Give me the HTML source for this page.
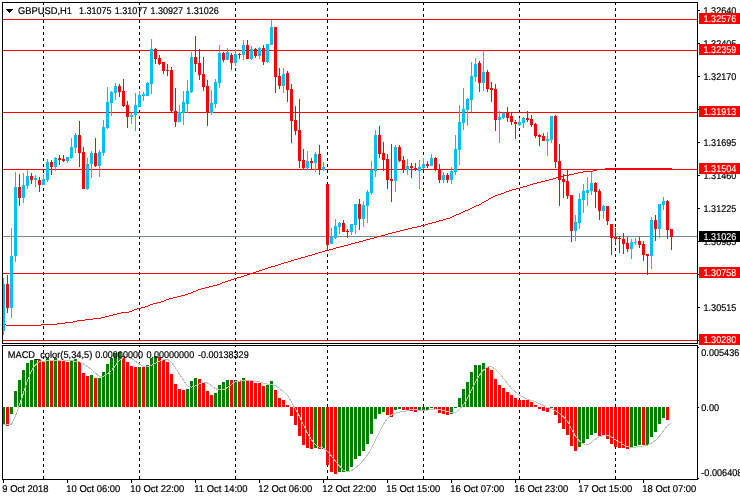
<!DOCTYPE html>
<html><head><meta charset="utf-8"><title>GBPUSD,H1</title>
<style>html,body{margin:0;padding:0;background:#fff}svg{display:block}text{text-rendering:geometricPrecision;font-family:"Liberation Sans",sans-serif;font-size:9.8px;fill:#000;stroke:#000;stroke-width:0.2px}.w{fill:#fff;stroke:#fff;stroke-width:0.1px}</style></head><body>
<svg width="740" height="500" viewBox="0 0 740 500">
<rect width="740" height="500" fill="#fff"/>
<g shape-rendering="crispEdges">
<path d="M43.5 2V479" stroke="#000" stroke-width="1" stroke-dasharray="3 3" fill="none"/><path d="M139.5 2V479" stroke="#000" stroke-width="1" stroke-dasharray="3 3" fill="none"/><path d="M235.5 2V479" stroke="#000" stroke-width="1" stroke-dasharray="3 3" fill="none"/><path d="M327.5 2V479" stroke="#000" stroke-width="1" stroke-dasharray="3 3" fill="none"/><path d="M423.5 2V479" stroke="#000" stroke-width="1" stroke-dasharray="3 3" fill="none"/><path d="M519.5 2V479" stroke="#000" stroke-width="1" stroke-dasharray="3 3" fill="none"/><path d="M615.5 2V479" stroke="#000" stroke-width="1" stroke-dasharray="3 3" fill="none"/><rect x="3" y="19" width="694" height="1" fill="#FF0000"/><rect x="3" y="50" width="694" height="1" fill="#FF0000"/><rect x="3" y="112" width="694" height="1" fill="#FF0000"/><rect x="3" y="169" width="694" height="1" fill="#FF0000"/><rect x="3" y="273" width="694" height="1" fill="#FF0000"/><rect x="3" y="340" width="694" height="1" fill="#FF0000"/><rect x="3" y="236" width="694" height="1" fill="#778899"/>
<rect x="2" y="407" width="3" height="17" fill="#008000"/><rect x="6" y="407" width="3" height="19" fill="#FF0000"/><rect x="10" y="407" width="3" height="7" fill="#008000"/><rect x="14" y="391" width="3" height="16" fill="#008000"/><rect x="18" y="380" width="3" height="27" fill="#008000"/><rect x="22" y="370" width="3" height="37" fill="#008000"/><rect x="26" y="363" width="3" height="44" fill="#008000"/><rect x="30" y="360" width="3" height="47" fill="#008000"/><rect x="34" y="359" width="3" height="48" fill="#008000"/><rect x="38" y="360" width="3" height="47" fill="#FF0000"/><rect x="42" y="362" width="3" height="45" fill="#FF0000"/><rect x="46" y="358" width="3" height="49" fill="#008000"/><rect x="50" y="360" width="3" height="47" fill="#FF0000"/><rect x="54" y="358" width="3" height="49" fill="#008000"/><rect x="58" y="360" width="3" height="47" fill="#FF0000"/><rect x="62" y="361" width="3" height="46" fill="#FF0000"/><rect x="66" y="362" width="3" height="45" fill="#FF0000"/><rect x="70" y="361" width="3" height="46" fill="#008000"/><rect x="74" y="359" width="3" height="48" fill="#008000"/><rect x="78" y="362" width="3" height="45" fill="#FF0000"/><rect x="82" y="373" width="3" height="34" fill="#FF0000"/><rect x="86" y="376" width="3" height="31" fill="#FF0000"/><rect x="90" y="375" width="3" height="32" fill="#008000"/><rect x="94" y="378" width="3" height="29" fill="#FF0000"/><rect x="98" y="378" width="3" height="29" fill="#008000"/><rect x="102" y="372" width="3" height="35" fill="#008000"/><rect x="106" y="364" width="3" height="43" fill="#008000"/><rect x="110" y="358" width="3" height="49" fill="#008000"/><rect x="114" y="353" width="3" height="54" fill="#008000"/><rect x="118" y="352" width="3" height="55" fill="#008000"/><rect x="122" y="356" width="3" height="51" fill="#FF0000"/><rect x="126" y="362" width="3" height="45" fill="#FF0000"/><rect x="130" y="366" width="3" height="41" fill="#FF0000"/><rect x="134" y="367" width="3" height="40" fill="#FF0000"/><rect x="138" y="367" width="3" height="40" fill="#008000"/><rect x="142" y="367" width="3" height="40" fill="#FF0000"/><rect x="146" y="365" width="3" height="42" fill="#008000"/><rect x="150" y="358" width="3" height="49" fill="#008000"/><rect x="154" y="356" width="3" height="51" fill="#008000"/><rect x="158" y="357" width="3" height="50" fill="#FF0000"/><rect x="162" y="360" width="3" height="47" fill="#FF0000"/><rect x="166" y="362" width="3" height="45" fill="#FF0000"/><rect x="170" y="374" width="3" height="33" fill="#FF0000"/><rect x="174" y="384" width="3" height="23" fill="#FF0000"/><rect x="178" y="389" width="3" height="18" fill="#FF0000"/><rect x="182" y="390" width="3" height="17" fill="#FF0000"/><rect x="186" y="389" width="3" height="18" fill="#008000"/><rect x="190" y="381" width="3" height="26" fill="#008000"/><rect x="194" y="378" width="3" height="29" fill="#008000"/><rect x="198" y="379" width="3" height="28" fill="#FF0000"/><rect x="202" y="383" width="3" height="24" fill="#FF0000"/><rect x="206" y="391" width="3" height="16" fill="#FF0000"/><rect x="210" y="395" width="3" height="12" fill="#FF0000"/><rect x="214" y="393" width="3" height="14" fill="#008000"/><rect x="218" y="385" width="3" height="22" fill="#008000"/><rect x="222" y="382" width="3" height="25" fill="#008000"/><rect x="226" y="380" width="3" height="27" fill="#008000"/><rect x="230" y="380" width="3" height="27" fill="#FF0000"/><rect x="234" y="380" width="3" height="27" fill="#008000"/><rect x="238" y="381" width="3" height="26" fill="#FF0000"/><rect x="242" y="378" width="3" height="29" fill="#008000"/><rect x="246" y="381" width="3" height="26" fill="#FF0000"/><rect x="250" y="381" width="3" height="26" fill="#FF0000"/><rect x="254" y="383" width="3" height="24" fill="#FF0000"/><rect x="258" y="383" width="3" height="24" fill="#FF0000"/><rect x="262" y="386" width="3" height="21" fill="#FF0000"/><rect x="266" y="385" width="3" height="22" fill="#008000"/><rect x="270" y="381" width="3" height="26" fill="#008000"/><rect x="274" y="390" width="3" height="17" fill="#FF0000"/><rect x="278" y="398" width="3" height="9" fill="#FF0000"/><rect x="282" y="400" width="3" height="7" fill="#FF0000"/><rect x="286" y="405" width="3" height="2" fill="#FF0000"/><rect x="290" y="407" width="3" height="9" fill="#FF0000"/><rect x="294" y="407" width="3" height="18" fill="#FF0000"/><rect x="298" y="407" width="3" height="29" fill="#FF0000"/><rect x="302" y="407" width="3" height="38" fill="#FF0000"/><rect x="306" y="407" width="3" height="41" fill="#FF0000"/><rect x="310" y="407" width="3" height="42" fill="#FF0000"/><rect x="314" y="407" width="3" height="41" fill="#008000"/><rect x="318" y="407" width="3" height="42" fill="#FF0000"/><rect x="322" y="407" width="3" height="42" fill="#008000"/><rect x="326" y="407" width="3" height="58" fill="#FF0000"/><rect x="330" y="407" width="3" height="65" fill="#FF0000"/><rect x="334" y="407" width="3" height="67" fill="#FF0000"/><rect x="338" y="407" width="3" height="65" fill="#008000"/><rect x="342" y="407" width="3" height="65" fill="#008000"/><rect x="346" y="407" width="3" height="64" fill="#008000"/><rect x="350" y="407" width="3" height="60" fill="#008000"/><rect x="354" y="407" width="3" height="52" fill="#008000"/><rect x="358" y="407" width="3" height="49" fill="#008000"/><rect x="362" y="407" width="3" height="44" fill="#008000"/><rect x="366" y="407" width="3" height="37" fill="#008000"/><rect x="370" y="407" width="3" height="27" fill="#008000"/><rect x="374" y="407" width="3" height="12" fill="#008000"/><rect x="378" y="407" width="3" height="7" fill="#008000"/><rect x="382" y="407" width="3" height="5" fill="#008000"/><rect x="386" y="407" width="3" height="8" fill="#FF0000"/><rect x="390" y="407" width="3" height="10" fill="#FF0000"/><rect x="394" y="407" width="3" height="3" fill="#008000"/><rect x="398" y="407" width="3" height="2" fill="#008000"/><rect x="402" y="407" width="3" height="3" fill="#FF0000"/><rect x="406" y="407" width="3" height="3" fill="#FF0000"/><rect x="410" y="407" width="3" height="4" fill="#FF0000"/><rect x="414" y="407" width="3" height="5" fill="#FF0000"/><rect x="418" y="407" width="3" height="3" fill="#008000"/><rect x="422" y="407" width="3" height="3" fill="#008000"/><rect x="426" y="407" width="3" height="3" fill="#008000"/><rect x="430" y="407" width="3" height="1" fill="#008000"/><rect x="434" y="407" width="3" height="2" fill="#FF0000"/><rect x="438" y="407" width="3" height="6" fill="#FF0000"/><rect x="442" y="407" width="3" height="7" fill="#FF0000"/><rect x="446" y="407" width="3" height="8" fill="#FF0000"/><rect x="450" y="407" width="3" height="7" fill="#008000"/><rect x="454" y="407" width="3" height="1" fill="#008000"/><rect x="458" y="398" width="3" height="9" fill="#008000"/><rect x="462" y="389" width="3" height="18" fill="#008000"/><rect x="466" y="382" width="3" height="25" fill="#008000"/><rect x="470" y="372" width="3" height="35" fill="#008000"/><rect x="474" y="365" width="3" height="42" fill="#008000"/><rect x="478" y="365" width="3" height="42" fill="#008000"/><rect x="482" y="363" width="3" height="44" fill="#008000"/><rect x="486" y="367" width="3" height="40" fill="#FF0000"/><rect x="490" y="370" width="3" height="37" fill="#FF0000"/><rect x="494" y="379" width="3" height="28" fill="#FF0000"/><rect x="498" y="385" width="3" height="22" fill="#FF0000"/><rect x="502" y="388" width="3" height="19" fill="#FF0000"/><rect x="506" y="392" width="3" height="15" fill="#FF0000"/><rect x="510" y="395" width="3" height="12" fill="#FF0000"/><rect x="514" y="398" width="3" height="9" fill="#FF0000"/><rect x="518" y="400" width="3" height="7" fill="#FF0000"/><rect x="522" y="400" width="3" height="7" fill="#FF0000"/><rect x="526" y="400" width="3" height="7" fill="#FF0000"/><rect x="530" y="402" width="3" height="5" fill="#FF0000"/><rect x="534" y="405" width="3" height="2" fill="#FF0000"/><rect x="538" y="407" width="3" height="2" fill="#FF0000"/><rect x="542" y="407" width="3" height="4" fill="#FF0000"/><rect x="546" y="407" width="3" height="5" fill="#FF0000"/><rect x="550" y="407" width="3" height="1" fill="#008000"/><rect x="554" y="407" width="3" height="8" fill="#FF0000"/><rect x="558" y="407" width="3" height="16" fill="#FF0000"/><rect x="562" y="407" width="3" height="22" fill="#FF0000"/><rect x="566" y="407" width="3" height="28" fill="#FF0000"/><rect x="570" y="407" width="3" height="39" fill="#FF0000"/><rect x="574" y="407" width="3" height="44" fill="#FF0000"/><rect x="578" y="407" width="3" height="40" fill="#008000"/><rect x="582" y="407" width="3" height="36" fill="#008000"/><rect x="586" y="407" width="3" height="32" fill="#008000"/><rect x="590" y="407" width="3" height="28" fill="#008000"/><rect x="594" y="407" width="3" height="26" fill="#008000"/><rect x="598" y="407" width="3" height="29" fill="#FF0000"/><rect x="602" y="407" width="3" height="29" fill="#FF0000"/><rect x="606" y="407" width="3" height="32" fill="#FF0000"/><rect x="610" y="407" width="3" height="37" fill="#FF0000"/><rect x="614" y="407" width="3" height="40" fill="#FF0000"/><rect x="618" y="407" width="3" height="41" fill="#FF0000"/><rect x="622" y="407" width="3" height="41" fill="#FF0000"/><rect x="626" y="407" width="3" height="42" fill="#FF0000"/><rect x="630" y="407" width="3" height="40" fill="#008000"/><rect x="634" y="407" width="3" height="39" fill="#008000"/><rect x="638" y="407" width="3" height="38" fill="#008000"/><rect x="642" y="407" width="3" height="38" fill="#FF0000"/><rect x="646" y="407" width="3" height="38" fill="#008000"/><rect x="650" y="407" width="3" height="30" fill="#008000"/><rect x="654" y="407" width="3" height="25" fill="#008000"/><rect x="658" y="407" width="3" height="17" fill="#008000"/><rect x="662" y="407" width="3" height="11" fill="#008000"/><rect x="666" y="407" width="3" height="13" fill="#FF0000"/>
<rect x="3" y="278" width="1" height="57" fill="#00BFFF"/><rect x="2" y="284" width="3" height="47" fill="#00BFFF"/><rect x="7" y="275" width="1" height="38" fill="#FF0000"/><rect x="6" y="284" width="3" height="24" fill="#FF0000"/><rect x="11" y="228" width="1" height="90" fill="#00BFFF"/><rect x="10" y="256" width="3" height="52" fill="#00BFFF"/><rect x="15" y="172" width="1" height="90" fill="#00BFFF"/><rect x="14" y="187" width="3" height="69" fill="#00BFFF"/><rect x="19" y="174" width="1" height="32" fill="#FF0000"/><rect x="18" y="187" width="3" height="11" fill="#FF0000"/><rect x="23" y="173" width="1" height="30" fill="#00BFFF"/><rect x="22" y="185" width="3" height="13" fill="#00BFFF"/><rect x="27" y="170" width="1" height="19" fill="#00BFFF"/><rect x="26" y="176" width="3" height="10" fill="#00BFFF"/><rect x="31" y="173" width="1" height="11" fill="#FF0000"/><rect x="30" y="176" width="3" height="4" fill="#FF0000"/><rect x="35" y="175" width="1" height="12" fill="#00BFFF"/><rect x="34" y="178" width="3" height="2" fill="#00BFFF"/><rect x="39" y="177" width="1" height="15" fill="#FF0000"/><rect x="38" y="180" width="3" height="5" fill="#FF0000"/><rect x="43" y="174" width="1" height="11" fill="#00BFFF"/><rect x="42" y="179" width="3" height="6" fill="#00BFFF"/><rect x="47" y="159" width="1" height="23" fill="#00BFFF"/><rect x="46" y="162" width="3" height="18" fill="#00BFFF"/><rect x="51" y="160" width="1" height="15" fill="#FF0000"/><rect x="50" y="162" width="3" height="5" fill="#FF0000"/><rect x="55" y="157" width="1" height="14" fill="#00BFFF"/><rect x="54" y="158" width="3" height="9" fill="#00BFFF"/><rect x="59" y="155" width="1" height="10" fill="#FF0000"/><rect x="58" y="158" width="3" height="2" fill="#FF0000"/><rect x="63" y="155" width="1" height="7" fill="#FF0000"/><rect x="62" y="159" width="3" height="2" fill="#FF0000"/><rect x="67" y="157" width="1" height="6" fill="#00BFFF"/><rect x="66" y="157" width="3" height="4" fill="#00BFFF"/><rect x="71" y="138" width="1" height="21" fill="#00BFFF"/><rect x="70" y="147" width="3" height="11" fill="#00BFFF"/><rect x="75" y="133" width="1" height="20" fill="#00BFFF"/><rect x="74" y="135" width="3" height="13" fill="#00BFFF"/><rect x="79" y="121" width="1" height="46" fill="#FF0000"/><rect x="78" y="135" width="3" height="18" fill="#FF0000"/><rect x="83" y="147" width="1" height="42" fill="#FF0000"/><rect x="82" y="152" width="3" height="37" fill="#FF0000"/><rect x="87" y="158" width="1" height="32" fill="#00BFFF"/><rect x="86" y="164" width="3" height="25" fill="#00BFFF"/><rect x="91" y="151" width="1" height="27" fill="#00BFFF"/><rect x="90" y="153" width="3" height="11" fill="#00BFFF"/><rect x="95" y="138" width="1" height="29" fill="#FF0000"/><rect x="94" y="153" width="3" height="13" fill="#FF0000"/><rect x="99" y="150" width="1" height="27" fill="#00BFFF"/><rect x="98" y="152" width="3" height="14" fill="#00BFFF"/><rect x="103" y="120" width="1" height="36" fill="#00BFFF"/><rect x="102" y="127" width="3" height="26" fill="#00BFFF"/><rect x="107" y="87" width="1" height="42" fill="#00BFFF"/><rect x="106" y="102" width="3" height="26" fill="#00BFFF"/><rect x="111" y="91" width="1" height="25" fill="#00BFFF"/><rect x="110" y="92" width="3" height="11" fill="#00BFFF"/><rect x="115" y="83" width="1" height="17" fill="#00BFFF"/><rect x="114" y="86" width="3" height="7" fill="#00BFFF"/><rect x="119" y="84" width="1" height="13" fill="#FF0000"/><rect x="118" y="86" width="3" height="6" fill="#FF0000"/><rect x="123" y="79" width="1" height="28" fill="#FF0000"/><rect x="122" y="91" width="3" height="15" fill="#FF0000"/><rect x="127" y="101" width="1" height="27" fill="#FF0000"/><rect x="126" y="105" width="3" height="12" fill="#FF0000"/><rect x="131" y="112" width="1" height="12" fill="#00BFFF"/><rect x="130" y="115" width="3" height="2" fill="#00BFFF"/><rect x="135" y="93" width="1" height="38" fill="#00BFFF"/><rect x="134" y="105" width="3" height="10" fill="#00BFFF"/><rect x="139" y="91" width="1" height="16" fill="#00BFFF"/><rect x="138" y="95" width="3" height="12" fill="#00BFFF"/><rect x="143" y="92" width="1" height="9" fill="#00BFFF"/><rect x="142" y="94" width="3" height="2" fill="#00BFFF"/><rect x="147" y="82" width="1" height="14" fill="#00BFFF"/><rect x="146" y="83" width="3" height="13" fill="#00BFFF"/><rect x="151" y="39" width="1" height="55" fill="#00BFFF"/><rect x="150" y="49" width="3" height="35" fill="#00BFFF"/><rect x="155" y="48" width="1" height="16" fill="#FF0000"/><rect x="154" y="49" width="3" height="10" fill="#FF0000"/><rect x="159" y="55" width="1" height="10" fill="#FF0000"/><rect x="158" y="58" width="3" height="6" fill="#FF0000"/><rect x="163" y="62" width="1" height="12" fill="#FF0000"/><rect x="162" y="62" width="3" height="9" fill="#FF0000"/><rect x="167" y="64" width="1" height="12" fill="#FF0000"/><rect x="166" y="70" width="3" height="1" fill="#FF0000"/><rect x="171" y="67" width="1" height="45" fill="#FF0000"/><rect x="170" y="70" width="3" height="41" fill="#FF0000"/><rect x="175" y="88" width="1" height="39" fill="#FF0000"/><rect x="174" y="111" width="3" height="11" fill="#FF0000"/><rect x="179" y="105" width="1" height="17" fill="#00BFFF"/><rect x="178" y="112" width="3" height="10" fill="#00BFFF"/><rect x="183" y="91" width="1" height="34" fill="#00BFFF"/><rect x="182" y="102" width="3" height="11" fill="#00BFFF"/><rect x="187" y="80" width="1" height="33" fill="#00BFFF"/><rect x="186" y="91" width="3" height="13" fill="#00BFFF"/><rect x="191" y="52" width="1" height="41" fill="#00BFFF"/><rect x="190" y="57" width="3" height="35" fill="#00BFFF"/><rect x="195" y="36" width="1" height="36" fill="#FF0000"/><rect x="194" y="57" width="3" height="7" fill="#FF0000"/><rect x="199" y="49" width="1" height="31" fill="#FF0000"/><rect x="198" y="63" width="3" height="12" fill="#FF0000"/><rect x="203" y="57" width="1" height="34" fill="#FF0000"/><rect x="202" y="74" width="3" height="13" fill="#FF0000"/><rect x="207" y="80" width="1" height="46" fill="#FF0000"/><rect x="206" y="86" width="3" height="27" fill="#FF0000"/><rect x="211" y="90" width="1" height="25" fill="#00BFFF"/><rect x="210" y="103" width="3" height="10" fill="#00BFFF"/><rect x="215" y="79" width="1" height="29" fill="#00BFFF"/><rect x="214" y="82" width="3" height="22" fill="#00BFFF"/><rect x="219" y="45" width="1" height="43" fill="#00BFFF"/><rect x="218" y="53" width="3" height="30" fill="#00BFFF"/><rect x="223" y="52" width="1" height="10" fill="#FF0000"/><rect x="222" y="53" width="3" height="7" fill="#FF0000"/><rect x="227" y="48" width="1" height="12" fill="#00BFFF"/><rect x="226" y="52" width="3" height="8" fill="#00BFFF"/><rect x="231" y="53" width="1" height="17" fill="#FF0000"/><rect x="230" y="55" width="3" height="8" fill="#FF0000"/><rect x="235" y="49" width="1" height="17" fill="#00BFFF"/><rect x="234" y="54" width="3" height="9" fill="#00BFFF"/><rect x="239" y="53" width="1" height="6" fill="#FF0000"/><rect x="238" y="54" width="3" height="1" fill="#FF0000"/><rect x="243" y="40" width="1" height="20" fill="#00BFFF"/><rect x="242" y="45" width="3" height="10" fill="#00BFFF"/><rect x="247" y="40" width="1" height="19" fill="#FF0000"/><rect x="246" y="45" width="3" height="14" fill="#FF0000"/><rect x="251" y="46" width="1" height="14" fill="#00BFFF"/><rect x="250" y="49" width="3" height="10" fill="#00BFFF"/><rect x="255" y="48" width="1" height="10" fill="#FF0000"/><rect x="254" y="49" width="3" height="7" fill="#FF0000"/><rect x="259" y="47" width="1" height="12" fill="#00BFFF"/><rect x="258" y="48" width="3" height="8" fill="#00BFFF"/><rect x="263" y="45" width="1" height="20" fill="#FF0000"/><rect x="262" y="48" width="3" height="14" fill="#FF0000"/><rect x="267" y="44" width="1" height="19" fill="#00BFFF"/><rect x="266" y="44" width="3" height="18" fill="#00BFFF"/><rect x="271" y="20" width="1" height="25" fill="#00BFFF"/><rect x="270" y="27" width="3" height="18" fill="#00BFFF"/><rect x="275" y="27" width="1" height="66" fill="#FF0000"/><rect x="274" y="27" width="3" height="50" fill="#FF0000"/><rect x="279" y="68" width="1" height="21" fill="#FF0000"/><rect x="278" y="76" width="3" height="10" fill="#FF0000"/><rect x="283" y="68" width="1" height="25" fill="#00BFFF"/><rect x="282" y="74" width="3" height="12" fill="#00BFFF"/><rect x="287" y="71" width="1" height="31" fill="#FF0000"/><rect x="286" y="73" width="3" height="17" fill="#FF0000"/><rect x="291" y="84" width="1" height="59" fill="#FF0000"/><rect x="290" y="89" width="3" height="32" fill="#FF0000"/><rect x="295" y="106" width="1" height="29" fill="#FF0000"/><rect x="294" y="120" width="3" height="11" fill="#FF0000"/><rect x="299" y="99" width="1" height="69" fill="#FF0000"/><rect x="298" y="130" width="3" height="31" fill="#FF0000"/><rect x="303" y="149" width="1" height="20" fill="#FF0000"/><rect x="302" y="160" width="3" height="8" fill="#FF0000"/><rect x="307" y="151" width="1" height="19" fill="#00BFFF"/><rect x="306" y="161" width="3" height="7" fill="#00BFFF"/><rect x="311" y="158" width="1" height="11" fill="#FF0000"/><rect x="310" y="161" width="3" height="2" fill="#FF0000"/><rect x="315" y="152" width="1" height="20" fill="#00BFFF"/><rect x="314" y="154" width="3" height="9" fill="#00BFFF"/><rect x="319" y="145" width="1" height="30" fill="#FF0000"/><rect x="318" y="154" width="3" height="16" fill="#FF0000"/><rect x="323" y="162" width="1" height="9" fill="#00BFFF"/><rect x="322" y="167" width="3" height="3" fill="#00BFFF"/><rect x="327" y="184" width="1" height="66" fill="#FF0000"/><rect x="326" y="184" width="3" height="61" fill="#FF0000"/><rect x="331" y="228" width="1" height="16" fill="#00BFFF"/><rect x="330" y="237" width="3" height="7" fill="#00BFFF"/><rect x="335" y="219" width="1" height="20" fill="#00BFFF"/><rect x="334" y="226" width="3" height="12" fill="#00BFFF"/><rect x="339" y="222" width="1" height="12" fill="#00BFFF"/><rect x="338" y="223" width="3" height="4" fill="#00BFFF"/><rect x="343" y="220" width="1" height="12" fill="#FF0000"/><rect x="342" y="223" width="3" height="9" fill="#FF0000"/><rect x="347" y="229" width="1" height="9" fill="#FF0000"/><rect x="346" y="231" width="3" height="1" fill="#FF0000"/><rect x="351" y="224" width="1" height="11" fill="#00BFFF"/><rect x="350" y="224" width="3" height="8" fill="#00BFFF"/><rect x="355" y="204" width="1" height="30" fill="#00BFFF"/><rect x="354" y="204" width="3" height="21" fill="#00BFFF"/><rect x="359" y="199" width="1" height="31" fill="#FF0000"/><rect x="358" y="204" width="3" height="15" fill="#FF0000"/><rect x="363" y="201" width="1" height="26" fill="#00BFFF"/><rect x="362" y="205" width="3" height="14" fill="#00BFFF"/><rect x="367" y="190" width="1" height="33" fill="#00BFFF"/><rect x="366" y="192" width="3" height="14" fill="#00BFFF"/><rect x="371" y="161" width="1" height="34" fill="#00BFFF"/><rect x="370" y="170" width="3" height="23" fill="#00BFFF"/><rect x="375" y="130" width="1" height="47" fill="#00BFFF"/><rect x="374" y="135" width="3" height="36" fill="#00BFFF"/><rect x="379" y="126" width="1" height="32" fill="#FF0000"/><rect x="378" y="135" width="3" height="19" fill="#FF0000"/><rect x="383" y="142" width="1" height="29" fill="#FF0000"/><rect x="382" y="153" width="3" height="7" fill="#FF0000"/><rect x="387" y="154" width="1" height="35" fill="#FF0000"/><rect x="386" y="159" width="3" height="21" fill="#FF0000"/><rect x="391" y="144" width="1" height="58" fill="#FF0000"/><rect x="390" y="179" width="3" height="2" fill="#FF0000"/><rect x="395" y="145" width="1" height="47" fill="#00BFFF"/><rect x="394" y="147" width="3" height="34" fill="#00BFFF"/><rect x="399" y="145" width="1" height="17" fill="#FF0000"/><rect x="398" y="147" width="3" height="14" fill="#FF0000"/><rect x="403" y="156" width="1" height="17" fill="#FF0000"/><rect x="402" y="160" width="3" height="10" fill="#FF0000"/><rect x="407" y="159" width="1" height="16" fill="#00BFFF"/><rect x="406" y="166" width="3" height="4" fill="#00BFFF"/><rect x="411" y="163" width="1" height="15" fill="#FF0000"/><rect x="410" y="166" width="3" height="2" fill="#FF0000"/><rect x="415" y="163" width="1" height="8" fill="#FF0000"/><rect x="414" y="168" width="3" height="2" fill="#FF0000"/><rect x="419" y="160" width="1" height="29" fill="#00BFFF"/><rect x="418" y="167" width="3" height="4" fill="#00BFFF"/><rect x="423" y="158" width="1" height="11" fill="#00BFFF"/><rect x="422" y="164" width="3" height="4" fill="#00BFFF"/><rect x="427" y="161" width="1" height="7" fill="#FF0000"/><rect x="426" y="164" width="3" height="2" fill="#FF0000"/><rect x="431" y="154" width="1" height="12" fill="#00BFFF"/><rect x="430" y="158" width="3" height="8" fill="#00BFFF"/><rect x="435" y="157" width="1" height="14" fill="#FF0000"/><rect x="434" y="158" width="3" height="12" fill="#FF0000"/><rect x="439" y="164" width="1" height="19" fill="#FF0000"/><rect x="438" y="169" width="3" height="11" fill="#FF0000"/><rect x="443" y="172" width="1" height="11" fill="#00BFFF"/><rect x="442" y="175" width="3" height="5" fill="#00BFFF"/><rect x="447" y="173" width="1" height="10" fill="#FF0000"/><rect x="446" y="175" width="3" height="5" fill="#FF0000"/><rect x="451" y="167" width="1" height="17" fill="#00BFFF"/><rect x="450" y="171" width="3" height="9" fill="#00BFFF"/><rect x="455" y="135" width="1" height="40" fill="#00BFFF"/><rect x="454" y="149" width="3" height="23" fill="#00BFFF"/><rect x="459" y="105" width="1" height="60" fill="#00BFFF"/><rect x="458" y="122" width="3" height="28" fill="#00BFFF"/><rect x="463" y="88" width="1" height="42" fill="#00BFFF"/><rect x="462" y="109" width="3" height="14" fill="#00BFFF"/><rect x="467" y="98" width="1" height="28" fill="#00BFFF"/><rect x="466" y="99" width="3" height="11" fill="#00BFFF"/><rect x="471" y="62" width="1" height="50" fill="#00BFFF"/><rect x="470" y="76" width="3" height="24" fill="#00BFFF"/><rect x="475" y="58" width="1" height="24" fill="#00BFFF"/><rect x="474" y="64" width="3" height="13" fill="#00BFFF"/><rect x="479" y="61" width="1" height="31" fill="#FF0000"/><rect x="478" y="63" width="3" height="20" fill="#FF0000"/><rect x="483" y="50" width="1" height="41" fill="#00BFFF"/><rect x="482" y="72" width="3" height="11" fill="#00BFFF"/><rect x="487" y="70" width="1" height="22" fill="#FF0000"/><rect x="486" y="72" width="3" height="17" fill="#FF0000"/><rect x="491" y="82" width="1" height="20" fill="#FF0000"/><rect x="490" y="88" width="3" height="2" fill="#FF0000"/><rect x="495" y="84" width="1" height="47" fill="#FF0000"/><rect x="494" y="89" width="3" height="31" fill="#FF0000"/><rect x="499" y="111" width="1" height="32" fill="#00BFFF"/><rect x="498" y="117" width="3" height="3" fill="#00BFFF"/><rect x="503" y="112" width="1" height="7" fill="#00BFFF"/><rect x="502" y="113" width="3" height="5" fill="#00BFFF"/><rect x="507" y="107" width="1" height="15" fill="#FF0000"/><rect x="506" y="113" width="3" height="5" fill="#FF0000"/><rect x="511" y="113" width="1" height="12" fill="#FF0000"/><rect x="510" y="116" width="3" height="6" fill="#FF0000"/><rect x="515" y="120" width="1" height="19" fill="#FF0000"/><rect x="514" y="122" width="3" height="2" fill="#FF0000"/><rect x="519" y="118" width="1" height="8" fill="#00BFFF"/><rect x="518" y="122" width="3" height="3" fill="#00BFFF"/><rect x="523" y="117" width="1" height="11" fill="#00BFFF"/><rect x="522" y="118" width="3" height="5" fill="#00BFFF"/><rect x="527" y="111" width="1" height="11" fill="#FF0000"/><rect x="526" y="118" width="3" height="2" fill="#FF0000"/><rect x="531" y="115" width="1" height="12" fill="#FF0000"/><rect x="530" y="119" width="3" height="6" fill="#FF0000"/><rect x="535" y="123" width="1" height="15" fill="#FF0000"/><rect x="534" y="124" width="3" height="12" fill="#FF0000"/><rect x="539" y="134" width="1" height="12" fill="#FF0000"/><rect x="538" y="135" width="3" height="2" fill="#FF0000"/><rect x="543" y="133" width="1" height="8" fill="#FF0000"/><rect x="542" y="136" width="3" height="5" fill="#FF0000"/><rect x="547" y="132" width="1" height="24" fill="#00BFFF"/><rect x="546" y="139" width="3" height="2" fill="#00BFFF"/><rect x="551" y="116" width="1" height="27" fill="#00BFFF"/><rect x="550" y="116" width="3" height="24" fill="#00BFFF"/><rect x="555" y="115" width="1" height="53" fill="#FF0000"/><rect x="554" y="116" width="3" height="46" fill="#FF0000"/><rect x="559" y="144" width="1" height="62" fill="#FF0000"/><rect x="558" y="161" width="3" height="19" fill="#FF0000"/><rect x="563" y="174" width="1" height="24" fill="#FF0000"/><rect x="562" y="179" width="3" height="3" fill="#FF0000"/><rect x="567" y="169" width="1" height="30" fill="#FF0000"/><rect x="566" y="181" width="3" height="15" fill="#FF0000"/><rect x="571" y="195" width="1" height="47" fill="#FF0000"/><rect x="570" y="195" width="3" height="36" fill="#FF0000"/><rect x="575" y="215" width="1" height="26" fill="#00BFFF"/><rect x="574" y="222" width="3" height="9" fill="#00BFFF"/><rect x="579" y="193" width="1" height="36" fill="#00BFFF"/><rect x="578" y="199" width="3" height="24" fill="#00BFFF"/><rect x="583" y="184" width="1" height="29" fill="#00BFFF"/><rect x="582" y="191" width="3" height="9" fill="#00BFFF"/><rect x="587" y="177" width="1" height="29" fill="#00BFFF"/><rect x="586" y="190" width="3" height="3" fill="#00BFFF"/><rect x="591" y="172" width="1" height="23" fill="#00BFFF"/><rect x="590" y="183" width="3" height="8" fill="#00BFFF"/><rect x="595" y="182" width="1" height="26" fill="#FF0000"/><rect x="594" y="183" width="3" height="9" fill="#FF0000"/><rect x="599" y="189" width="1" height="31" fill="#FF0000"/><rect x="598" y="191" width="3" height="20" fill="#FF0000"/><rect x="603" y="205" width="1" height="14" fill="#00BFFF"/><rect x="602" y="206" width="3" height="5" fill="#00BFFF"/><rect x="607" y="206" width="1" height="19" fill="#FF0000"/><rect x="606" y="206" width="3" height="15" fill="#FF0000"/><rect x="611" y="224" width="1" height="31" fill="#FF0000"/><rect x="610" y="224" width="3" height="14" fill="#FF0000"/><rect x="615" y="228" width="1" height="15" fill="#FF0000"/><rect x="614" y="237" width="3" height="2" fill="#FF0000"/><rect x="619" y="236" width="1" height="17" fill="#FF0000"/><rect x="618" y="238" width="3" height="1" fill="#FF0000"/><rect x="623" y="233" width="1" height="21" fill="#FF0000"/><rect x="622" y="239" width="3" height="5" fill="#FF0000"/><rect x="627" y="237" width="1" height="15" fill="#FF0000"/><rect x="626" y="243" width="3" height="6" fill="#FF0000"/><rect x="631" y="239" width="1" height="20" fill="#00BFFF"/><rect x="630" y="242" width="3" height="7" fill="#00BFFF"/><rect x="635" y="238" width="1" height="7" fill="#00BFFF"/><rect x="634" y="242" width="3" height="1" fill="#00BFFF"/><rect x="639" y="237" width="1" height="11" fill="#FF0000"/><rect x="638" y="241" width="3" height="4" fill="#FF0000"/><rect x="643" y="241" width="1" height="20" fill="#FF0000"/><rect x="642" y="244" width="3" height="11" fill="#FF0000"/><rect x="647" y="254" width="1" height="21" fill="#FF0000"/><rect x="646" y="254" width="3" height="2" fill="#FF0000"/><rect x="651" y="217" width="1" height="52" fill="#00BFFF"/><rect x="650" y="220" width="3" height="36" fill="#00BFFF"/><rect x="655" y="215" width="1" height="26" fill="#FF0000"/><rect x="654" y="220" width="3" height="9" fill="#FF0000"/><rect x="659" y="204" width="1" height="34" fill="#00BFFF"/><rect x="658" y="204" width="3" height="25" fill="#00BFFF"/><rect x="663" y="197" width="1" height="13" fill="#00BFFF"/><rect x="662" y="201" width="3" height="4" fill="#00BFFF"/><rect x="667" y="200" width="1" height="39" fill="#FF0000"/><rect x="666" y="201" width="3" height="29" fill="#FF0000"/><rect x="671" y="229" width="1" height="21" fill="#FF0000"/><rect x="670" y="229" width="3" height="8" fill="#FF0000"/>
</g>
<g shape-rendering="crispEdges"><path d="M5 324h1v1h-1zM6 325h35v1h-35zM41 324h16v1h-16zM57 323h8v1h-8zM65 322h8v1h-8zM73 321h4v1h-4zM77 320h8v1h-8zM85 319h8v1h-8zM93 318h8v1h-8zM101 317h4v1h-4zM105 316h4v1h-4zM109 315h4v1h-4zM113 314h4v1h-4zM117 313h4v1h-4zM121 312h8v1h-8zM129 311h3v1h-3zM132 310h2v1h-2zM134 309h3v1h-3zM137 308h4v1h-4zM141 307h4v1h-4zM145 306h3v1h-3zM148 305h2v1h-2zM150 304h3v1h-3zM153 303h4v1h-4zM157 302h4v1h-4zM161 301h3v1h-3zM164 300h2v1h-2zM166 299h3v1h-3zM169 298h4v1h-4zM173 297h4v1h-4zM177 296h4v1h-4zM181 295h4v1h-4zM185 294h3v1h-3zM188 293h3v1h-3zM191 292h2v1h-2zM193 291h3v1h-3zM196 290h2v1h-2zM198 289h3v1h-3zM201 288h4v1h-4zM205 287h4v1h-4zM209 286h4v1h-4zM213 285h4v1h-4zM217 284h3v1h-3zM220 283h2v1h-2zM222 282h3v1h-3zM225 281h3v1h-3zM228 280h3v1h-3zM231 279h3v1h-3zM234 278h3v1h-3zM237 277h4v1h-4zM241 276h3v1h-3zM244 275h3v1h-3zM247 274h3v1h-3zM250 273h3v1h-3zM253 272h3v1h-3zM256 271h3v1h-3zM259 270h3v1h-3zM262 269h3v1h-3zM265 268h3v1h-3zM268 267h3v1h-3zM271 266h4v1h-4zM275 265h3v1h-3zM278 264h3v1h-3zM281 263h3v1h-3zM284 262h4v1h-4zM288 261h3v1h-3zM291 260h3v1h-3zM294 259h4v1h-4zM298 258h3v1h-3zM301 257h4v1h-4zM305 256h3v1h-3zM308 255h4v1h-4zM312 254h3v1h-3zM315 253h3v1h-3zM318 252h4v1h-4zM322 251h3v1h-3zM325 250h4v1h-4zM329 249h4v1h-4zM333 248h3v1h-3zM336 247h4v1h-4zM340 246h4v1h-4zM344 245h4v1h-4zM348 244h3v1h-3zM351 243h4v1h-4zM355 242h4v1h-4zM359 241h4v1h-4zM363 240h3v1h-3zM366 239h4v1h-4zM370 238h4v1h-4zM374 237h3v1h-3zM377 236h4v1h-4zM381 235h4v1h-4zM385 234h3v1h-3zM388 233h4v1h-4zM392 232h4v1h-4zM396 231h4v1h-4zM400 230h4v1h-4zM404 229h4v1h-4zM408 228h4v1h-4zM412 227h5v1h-5zM417 226h4v1h-4zM421 225h4v1h-4zM425 224h3v1h-3zM428 223h4v1h-4zM432 222h4v1h-4zM436 221h3v1h-3zM439 220h4v1h-4zM443 219h3v1h-3zM446 218h4v1h-4zM450 217h2v1h-2zM452 216h2v1h-2zM454 215h2v1h-2zM456 214h3v1h-3zM459 213h2v1h-2zM461 212h2v1h-2zM463 211h2v1h-2zM465 210h3v1h-3zM468 209h2v1h-2zM470 208h2v1h-2zM472 207h2v1h-2zM474 206h2v1h-2zM476 205h3v1h-3zM479 204h2v1h-2zM481 203h1v1h-1zM482 202h2v1h-2zM484 201h2v1h-2zM486 200h2v1h-2zM488 199h1v1h-1zM489 198h2v1h-2zM491 197h2v1h-2zM493 196h2v1h-2zM495 195h3v1h-3zM498 194h3v1h-3zM501 193h3v1h-3zM504 192h2v1h-2zM506 191h3v1h-3zM509 190h3v1h-3zM512 189h4v1h-4zM516 188h4v1h-4zM520 187h3v1h-3zM523 186h4v1h-4zM527 185h3v1h-3zM530 184h3v1h-3zM533 183h4v1h-4zM537 182h4v1h-4zM541 181h4v1h-4zM545 180h4v1h-4zM549 179h4v1h-4zM553 178h3v1h-3zM556 177h4v1h-4zM560 176h4v1h-4zM564 175h5v1h-5zM569 174h5v1h-5zM574 173h4v1h-4zM578 172h5v1h-5zM583 171h10v1h-10zM593 170h4v1h-4zM597 169h8v1h-8zM605 168h67v1h-67z" fill="#FF0000"/></g>
<path d="M3.5 424.5 L7.5 424.6 L11.5 424.5 L15.5 416 L19.5 405 L23.5 393 L27.5 380.5 L31.5 370.7 L35.5 364.7 L39.5 361.4 L43.5 361.3 L47.5 360.3 L51.5 360.3 L55.5 360.1 L59.5 360.1 L63.5 359.9 L67.5 360.7 L71.5 360.9 L75.5 361.1 L79.5 361.5 L83.5 363.9 L87.5 366.7 L91.5 369.5 L95.5 373.3 L99.5 376.5 L103.5 376.3 L107.5 373.9 L111.5 370.5 L115.5 365.5 L119.5 360.4 L123.5 357.2 L127.5 356.8 L131.5 358.4 L135.5 361.2 L139.5 364.1 L143.5 366.3 L147.5 366.9 L151.5 365.3 L155.5 363.1 L159.5 361.1 L163.5 359.7 L167.5 359.1 L171.5 362.3 L175.5 367.9 L179.5 374.3 L183.5 380.3 L187.5 385.7 L191.5 387.1 L195.5 385.9 L199.5 383.9 L203.5 382.5 L207.5 382.9 L211.5 385.7 L215.5 388.7 L219.5 389.9 L223.5 389.7 L227.5 387.5 L231.5 384.5 L235.5 381.9 L239.5 381.1 L243.5 380.3 L247.5 380.5 L251.5 380.7 L255.5 381.3 L259.5 381.7 L263.5 383.3 L267.5 384.1 L271.5 384.1 L275.5 385.5 L279.5 388.5 L283.5 391.3 L287.5 395.3 L291.5 402.1 L295.5 408.9 L299.5 416.3 L303.5 425.1 L307.5 433.5 L311.5 440.1 L315.5 444.7 L319.5 447.3 L323.5 448.1 L327.5 451.5 L331.5 456.1 L335.5 461.3 L339.5 465.9 L343.5 470.5 L347.5 471.7 L351.5 470.7 L355.5 467.7 L359.5 464.5 L363.5 460.3 L367.5 454.9 L371.5 448.3 L375.5 440.3 L379.5 431.9 L383.5 424.1 L387.5 418.3 L391.5 414.9 L395.5 413.1 L399.5 412.1 L403.5 411.7 L407.5 410.7 L411.5 409.5 L415.5 409.9 L419.5 410.1 L423.5 410.1 L427.5 410.1 L431.5 409.5 L435.5 408.9 L439.5 409.5 L443.5 410.3 L447.5 411.3 L451.5 412.5 L455.5 412.3 L459.5 409.5 L463.5 404.7 L467.5 398.3 L471.5 390.1 L475.5 381.7 L479.5 375.1 L483.5 369.9 L487.5 366.9 L491.5 366.5 L495.5 369.3 L499.5 373.3 L503.5 378.3 L507.5 383.3 L511.5 388.3 L515.5 392.1 L519.5 395.1 L523.5 397.5 L527.5 399.1 L531.5 400.5 L535.5 401.9 L539.5 403.5 L543.5 405.5 L547.5 407.7 L551.5 408.7 L555.5 410.5 L559.5 413.3 L563.5 416.9 L567.5 421.5 L571.5 429.1 L575.5 436.3 L579.5 441.1 L583.5 443.9 L587.5 444.7 L591.5 442.5 L595.5 438.9 L599.5 436.7 L603.5 435.3 L607.5 435.3 L611.5 437.1 L615.5 439.9 L619.5 442.3 L623.5 444.7 L627.5 446.7 L631.5 447.3 L635.5 447.1 L639.5 446.5 L643.5 445.9 L647.5 445.1 L651.5 443.1 L655.5 440.3 L659.5 436.1 L663.5 430.7 L667.5 425.7 L671.5 422.8" stroke="#C0C0C0" stroke-width="1" fill="none" shape-rendering="crispEdges"/>
<g shape-rendering="crispEdges"><rect x="2" y="2" width="696" height="1" fill="#000"/><rect x="2" y="2" width="1" height="478" fill="#000"/><rect x="697" y="2" width="1" height="478" fill="#000"/><rect x="2" y="343" width="696" height="1" fill="#000"/><rect x="2" y="344" width="696" height="1" fill="#fff"/><rect x="2" y="345" width="696" height="1" fill="#000"/><rect x="2" y="479" width="696" height="1" fill="#000"/><rect x="698" y="10" width="2" height="1" fill="#000"/><rect x="698" y="43" width="2" height="1" fill="#000"/><rect x="698" y="76" width="2" height="1" fill="#000"/><rect x="698" y="109" width="2" height="1" fill="#000"/><rect x="698" y="142" width="2" height="1" fill="#000"/><rect x="698" y="175" width="2" height="1" fill="#000"/><rect x="698" y="208" width="2" height="1" fill="#000"/><rect x="698" y="241" width="2" height="1" fill="#000"/><rect x="698" y="274" width="2" height="1" fill="#000"/><rect x="698" y="307" width="2" height="1" fill="#000"/><rect x="698" y="340" width="2" height="1" fill="#000"/><rect x="698" y="347" width="1" height="1" fill="#000"/><rect x="698" y="407" width="1" height="1" fill="#000"/><rect x="698" y="478" width="1" height="1" fill="#000"/><rect x="3" y="480" width="1" height="3" fill="#000"/><rect x="67" y="480" width="1" height="3" fill="#000"/><rect x="131" y="480" width="1" height="3" fill="#000"/><rect x="195" y="480" width="1" height="3" fill="#000"/><rect x="259" y="480" width="1" height="3" fill="#000"/><rect x="323" y="480" width="1" height="3" fill="#000"/><rect x="387" y="480" width="1" height="3" fill="#000"/><rect x="451" y="480" width="1" height="3" fill="#000"/><rect x="515" y="480" width="1" height="3" fill="#000"/><rect x="579" y="480" width="1" height="3" fill="#000"/><rect x="643" y="480" width="1" height="3" fill="#000"/></g>
<text transform="translate(703.6 14) scale(0.9205 1)">1.32640</text><text transform="translate(703.6 47) scale(0.9205 1)">1.32405</text><text transform="translate(703.6 80) scale(0.9205 1)">1.32170</text><text transform="translate(703.6 146) scale(0.9205 1)">1.31695</text><text transform="translate(703.6 179) scale(0.9205 1)">1.31460</text><text transform="translate(703.6 212) scale(0.9205 1)">1.31225</text><text transform="translate(703.6 245) scale(0.9205 1)">1.30985</text><text transform="translate(703.6 311) scale(0.9205 1)">1.30515</text>
<g shape-rendering="crispEdges"><rect x="699" y="13" width="41" height="11" fill="#FF0000"/><rect x="699" y="44" width="41" height="11" fill="#FF0000"/><rect x="699" y="106" width="41" height="11" fill="#FF0000"/><rect x="699" y="163" width="41" height="11" fill="#FF0000"/><rect x="699" y="231" width="41" height="11" fill="#000"/><rect x="699" y="267" width="41" height="11" fill="#FF0000"/><rect x="699" y="334" width="41" height="11" fill="#FF0000"/></g>
<text class="w" transform="translate(703.6 22) scale(0.9205 1)">1.32576</text><text class="w" transform="translate(703.6 53) scale(0.9205 1)">1.32359</text><text class="w" transform="translate(703.6 115) scale(0.9205 1)">1.31913</text><text class="w" transform="translate(703.6 172) scale(0.9205 1)">1.31504</text><text class="w" transform="translate(703.6 240) scale(0.9205 1)">1.31026</text><text class="w" transform="translate(703.6 276) scale(0.9205 1)">1.30758</text><text class="w" transform="translate(703.6 343) scale(0.9205 1)">1.30280</text>
<text transform="translate(701.3 355.7) scale(0.93 1)">0.005436</text><text transform="translate(701.3 411) scale(0.93 1)">0.00</text><text transform="translate(701.3 475.7) scale(0.93 1)">-0.006408</text>
<path d="M6 9h7v1h-1v1h-1v1h-1v1h-1v-1h-1v-1h-1v-1h-1z" fill="#000" shape-rendering="crispEdges"/><text transform="translate(18 13.8) scale(0.955 1)">GBPUSD,H1</text><text transform="translate(79 13.8) scale(0.9205 1)">1.31075</text><text transform="translate(114.7 13.8) scale(0.9205 1)">1.31077</text><text transform="translate(150.5 13.8) scale(0.9205 1)">1.30927</text><text transform="translate(186.2 13.8) scale(0.9205 1)">1.31026</text>
<text transform="translate(7.7 357.6) scale(0.948 1)">MACD_color(5,34,5)</text><text transform="translate(95.3 357.6) scale(0.9205 1)">0.00000000</text><text transform="translate(146.5 357.6) scale(0.9205 1)">0.00000000</text><text transform="translate(198 357.6) scale(0.9205 1)">-0.00138329</text>
<text transform="translate(2.3 491.8) scale(0.962 1)">9 Oct 2018</text><text transform="translate(66.3 491.8) scale(0.962 1)">10 Oct 06:00</text><text transform="translate(130.3 491.8) scale(0.962 1)">10 Oct 22:00</text><text transform="translate(194.3 491.8) scale(0.962 1)">11 Oct 14:00</text><text transform="translate(258.3 491.8) scale(0.962 1)">12 Oct 06:00</text><text transform="translate(322.3 491.8) scale(0.962 1)">12 Oct 22:00</text><text transform="translate(386.3 491.8) scale(0.962 1)">15 Oct 15:00</text><text transform="translate(450.3 491.8) scale(0.962 1)">16 Oct 07:00</text><text transform="translate(514.3 491.8) scale(0.962 1)">16 Oct 23:00</text><text transform="translate(578.3 491.8) scale(0.962 1)">17 Oct 15:00</text><text transform="translate(642.3 491.8) scale(0.962 1)">18 Oct 07:00</text>
</svg>
</body></html>
